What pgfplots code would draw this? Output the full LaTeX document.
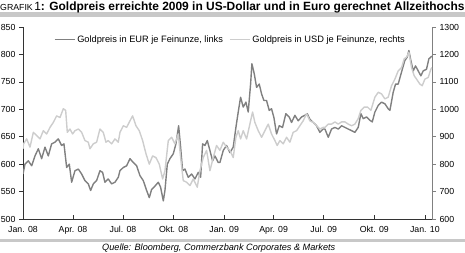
\documentclass[border=0pt]{standalone}
\usepackage{pgfplots}
\pgfplotsset{compat=1.18}
\usepackage{fontspec}
\setmainfont{Liberation Sans}
\definecolor{eurc}{HTML}{808080}
\definecolor{usdc}{HTML}{CDCDCD}
\definecolor{sepc}{HTML}{C8C8C8}
\definecolor{axc}{HTML}{333333}

\pgfplotstableread{
day eur
0 582
3.6 600
9.7 606
15.8 597
21.8 615
27.9 628
33.9 610
40 631
46 615
52.1 637
58.2 640
64.2 646
70.3 634
74.5 637
79.4 594
84.2 600
88.5 567
94.5 588
100.6 591
106.7 582
112.7 570
118.8 564
123 552
127.9 564
133.9 570
140 588
144.8 585
149 567
155.1 573
161.2 564
167.2 567
173.3 576
176.4 588
182.5 594
188.5 597
194.6 610
200.6 603
206.7 597
212.8 579
218.8 570
224.9 552
229.7 539
234 554
240 560
246.1 567
250.3 558
255.2 533
258.2 552
262.5 600
267.3 610
273.4 619
278.2 637
283.1 670
286.7 631
290.3 588
294.6 591
300.6 576
306.7 582
312.8 573
318.8 585
323.1 576
326.7 637
330.9 634
335.2 643
340 625
344.9 606
349.1 615
355.2 603
358.2 603
364.3 625
370.3 634
376.4 621
382.4 631
387.3 667
391.5 695
395.8 722
400.6 704
405.5 713
409.7 695
414 746
416.4 783
420.6 765
424.9 740
429.7 746
434 728
438.2 716
443 716
447.9 698
452.1 701
456.4 685
461.2 655
466.1 670
472.1 667
478.2 692
484.2 686
488.5 676
494.6 689
500.6 679
506.7 686
512.7 689
517 692
521.8 682
527.9 676
533.9 670
540 658
546.1 664
549.2 664
555.3 649
561.3 664
567.4 667
573.4 664
579.5 670
585.6 667
591.6 664
597.7 661
603.7 658
609.8 667
614.6 692
618.9 683
625 686
631 680
635.3 677
640.1 695
646.2 707
652.2 713
658.3 710
664.3 701
667.4 698
673.4 731
677.7 746
682.5 746
688.6 768
694.6 789
698.9 795
701.9 807
705.5 789
709.8 770
714 779
718.9 770
723.7 761
728 770
734 773
738.3 792
744 797
}\eurtable

\pgfplotstableread{
day usd
0 856
1 874
6.7 892
12.7 862
18.8 916
24.8 904
30.9 892
37 922
43 910
49.1 934
55.1 952
61.2 976
67.3 970
73.3 1002
77.6 996
80.6 916
85.4 928
90.3 910
94.5 922
100.6 928
106.7 916
112.7 886
118.8 880
121.8 856
127.9 874
133.9 880
140 928
146 916
150.9 880
155.1 886
161.2 874
167.2 892
173.3 880
176.4 916
182.5 940
188.5 934
194.6 958
199.4 976
205.5 940
211.5 922
217.6 886
223.7 838
229.7 800
235.8 830
241.8 824
247.9 800
254 746
258.2 776
264.3 886
270.3 898
276.4 874
282.5 910
286.7 824
291.5 740
297.6 734
303.7 722
309.7 746
317 716
321.8 776
327.9 824
334 850
340 776
346.1 824
352.1 868
358.2 850
364.3 880
370.3 862
376.4 850
382.4 824
387.3 898
391.5 922
395.8 892
400.6 922
406.7 892
412.7 946
417.6 990
421.8 952
427.9 922
434 898
440 922
446.1 946
452.1 910
458.2 886
462.4 868
467.3 886
473.3 874
479.4 898
485.5 880
491.5 916
497.6 922
503.6 940
509.7 958
515.8 984
521.8 958
527.9 952
533.9 940
540 928
546.1 934
549.2 934
555.3 946
561.3 946
567.4 954
573.4 946
579.5 954
585.6 954
591.6 946
597.7 940
603.7 946
609.8 966
614.6 996
620.7 1008
626.8 1008
632.8 996
640.1 1044
646.2 1062
652.2 1056
658.3 1038
664.3 1044
670.4 1086
676.5 1110
682.5 1140
688.6 1152
693.4 1184
697.7 1190
701.9 1208
706.8 1152
711.6 1122
715.9 1110
721.9 1092
726.2 1086
731 1110
737.1 1116
741.9 1146
744 1152
}\usdtable

\begin{document}
\begin{tikzpicture}[x=1bp,y=1bp]
\useasboundingbox (0,0) rectangle (465,252);
\fill[sepc] (0,235.5) rectangle (465,239.5);
\fill[sepc] (0,10.5) rectangle (465,13.5);
\node[anchor=base west, inner sep=0] at (0,241.6) {\fontsize{8.8}{10}\selectfont GRAFIK\,\fontsize{12}{14}\selectfont 1\textbf{: Goldpreis erreichte 2009 in US-Dollar und in Euro gerechnet Allzeithochs}};
\node[anchor=base west, inner sep=0] at (102,2) {\fontsize{9.2}{10}\selectfont\itshape Quelle: Bloomberg, Commerzbank Corporates \& Markets};

\begin{axis}[
  at={(23bp,33bp)}, anchor=south west,
  scale only axis, width=409bp, height=192bp,
  xmin=0, xmax=744, ymin=500, ymax=850,
  axis x line*=bottom, axis y line*=left,
  axis line style={axc, line width=0.8bp},
  ytick={500,550,...,850},
  xtick={0,91,182,274,366,456,547,639,731},
  xticklabels={Jan. 08, Apr. 08, Jul. 08, Okt. 08, Jan. 09, Apr. 09, Jul. 09, Okt. 09, Jan. 10},
  xtick align=inside, ytick align=outside,
  major tick length=4bp,
  tick style={axc, line width=0.6bp},
  tick label style={font=\fontsize{8.8}{10}\selectfont, text=black},
  xticklabel style={yshift=-3.5bp},
  /pgf/number format/assume math mode=true,
  /pgf/number format/1000 sep={},
  legend style={at={(0.075,0.934)}, anchor=west, draw=none, fill=none,
    font=\fontsize{9.3}{10}\selectfont, inner sep=0pt,
    /tikz/every even column/.append style={column sep=4bp}},
  legend columns=2,
  legend cell align=left,
  legend image code/.code={\draw[#1] (0bp,0bp) -- (20bp,0bp);},
]
\addplot[eurc, line width=1.4bp, line join=round] table[x=day,y=eur] {\eurtable};
\addlegendentry{Goldpreis in EUR je Feinunze, links}
\addlegendimage{usdc, line width=1.4bp}
\addlegendentry{Goldpreis in USD je Feinunze, rechts}
\end{axis}

\begin{axis}[
  at={(23bp,33bp)}, anchor=south west,
  scale only axis, width=409bp, height=192bp,
  xmin=0, xmax=744, ymin=600, ymax=1300,
  axis x line=none, axis y line*=right,
  y axis line style={gray, line width=0.6bp},
  ytick={600,700,...,1300},
  ytick align=outside,
  major tick length=4bp,
  tick style={gray, line width=0.6bp},
  tick label style={font=\fontsize{8.8}{10}\selectfont, text=black},
  /pgf/number format/assume math mode=true,
  /pgf/number format/1000 sep={},
]
\addplot[usdc, line width=1.4bp, line join=round] table[x=day,y=usd] {\usdtable};
\end{axis}
\end{tikzpicture}
\end{document}
